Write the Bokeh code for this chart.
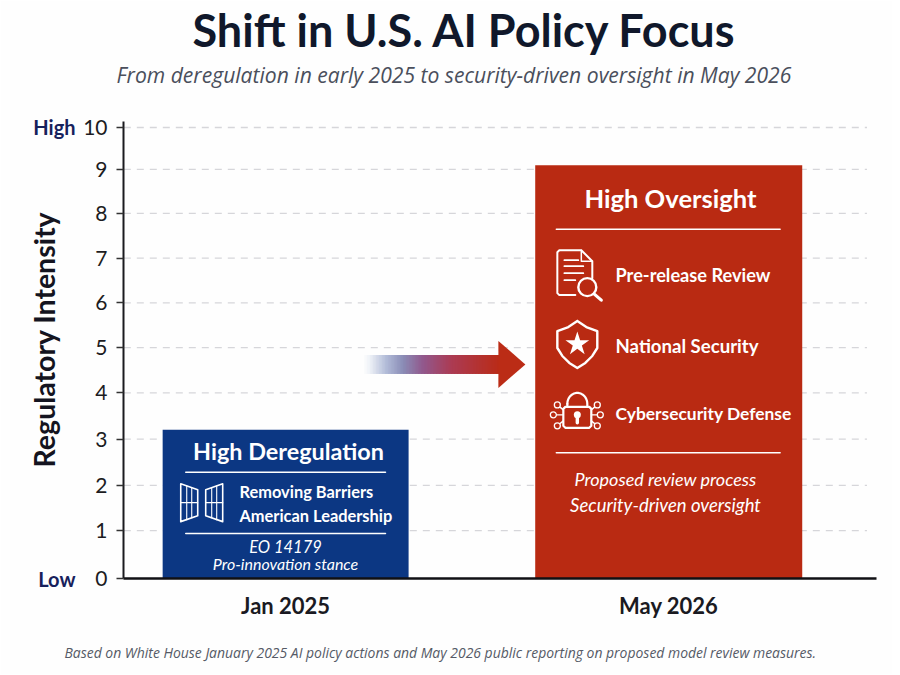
import numpy as np
from bokeh.embed import file_html
from bokeh.resources import INLINE
from bokeh.plotting import figure
from bokeh.models import ColumnDataSource, FixedTicker, Label, LinearAxis, Range1d, Title

# ---- data ----
categories = ["Jan 2025", "May 2026"]
intensity = [3.2, 9.1]
bar_colors = ["#0c3783", "#b92a12"]
tick_labels = ["0", "1", "2", "3", "4", "5", "6", "7", "8", "9", "10"]
# the reference's y axis is slightly uneven: where each labelled tick sits
tick_places = [0, 1.062, 2.064, 3.091, 4.115, 5.117, 6.113, 7.102, 8.097, 9.071, 10.0]
bar_width_units = [0.642, 0.697]
scale_ends = {0: "Low", 10: "High"}

FONT = "Lato"
W, H = 892, 674


def axis_place(v):
    return float(np.interp(v, [float(t) for t in tick_labels], tick_places))


def px(x):  # page x -> axis units (decoration layout)
    return (x - 285.0) / 383.5


def py(y):  # page y -> axis units (decoration layout)
    return (578.0 - y) / 45.2


p = figure(width=W, height=H, output_backend="svg", toolbar_location=None,
           x_range=Range1d(px(122.7), px(876.5)), y_range=Range1d(0, py(120)),
           min_border_left=123, min_border_right=W - 876, min_border_top=120, min_border_bottom=H - 578,
           background_fill_color="#fefefe", border_fill_color="#fefefe", outline_line_color=None)
p.grid.visible = False

# axes
ya, xa = p.yaxis[0], p.xaxis[0]
ya.ticker = FixedTicker(ticks=tick_places)
ya.major_label_overrides = dict(zip(tick_places, tick_labels))
ya.major_label_text_font = FONT
ya.major_label_text_font_size = "21px"
ya.major_label_text_color = "#1c1c22"
ya.major_label_standoff = 9
ya.major_tick_in = 0
ya.major_tick_out = 7
ya.major_tick_line_color = "#333333"
ya.major_tick_line_width = 1.5
ya.minor_tick_line_color = None
ya.axis_line_color = "#1a1a1f"
ya.axis_line_width = 2

# second left axis: only the Low / High ends of the scale, plus the axis title
# (leading no-break spaces lift the rotated title to the reference's centre)
ends = LinearAxis(ticker=FixedTicker(ticks=list(scale_ends)), major_label_overrides=scale_ends,
                  major_label_text_font=FONT, major_label_text_font_style="bold",
                  major_label_text_font_size="20px", major_label_text_color="#17215c",
                  major_label_standoff=-1, major_tick_line_color=None, minor_tick_line_color=None,
                  axis_line_color=None,
                  axis_label="\u00a0\u00a0\u00a0Regulatory Intensity", axis_label_text_font=FONT,
                  axis_label_text_font_style="bold", axis_label_text_font_size="28.5px",
                  axis_label_text_color="#141420", axis_label_standoff=-31)
p.add_layout(ends, "left")

xa.ticker = FixedTicker(ticks=list(range(len(categories))))
xa.major_label_overrides = dict(enumerate(categories))
xa.major_label_text_font = FONT
xa.major_label_text_font_style = "bold"
xa.major_label_text_font_size = "22px"
xa.major_label_text_color = "#1a1a22"
xa.major_label_standoff = 7
xa.major_tick_line_color = None
xa.minor_tick_line_color = None
xa.axis_line_color = "#111114"
xa.axis_line_width = 2.5

# title, subtitle and footnote live in the side panels, left-aligned with offsets;
# blank titles act as spacers because a title is centred inside its own panel
p.title = Title(text="Shift in U.S. AI Policy Focus", align="left", offset=69, standoff=1,
                text_font=FONT, text_font_style="bold", text_font_size="45px", text_color="#10182b")
p.add_layout(Title(text="\u00a0", standoff=20, text_font_size="10px"), "above")
p.add_layout(Title(text="From deregulation in early 2025 to security-driven oversight in May 2026",
                   align="left", offset=-7, standoff=0, text_font="Open Sans",
                   text_font_style="italic", text_font_size="21.1px", text_color="#4a4f5c"), "above")
p.add_layout(Title(text="\u00a0", standoff=6, text_font_size="10px"), "below")
p.add_layout(Title(text="Based on White House January 2025 AI policy actions and May 2026 public reporting on proposed model review measures.",
                   align="left", offset=-59, standoff=0, text_font="Open Sans", text_font_style="italic",
                   text_font_size="13.95px", text_color="#555a66"), "below")

# dashed grid lines (stop short of the baseline's end)
grid_ticks = tick_places[1:]
p.segment(x0=[px(123)] * len(grid_ticks), x1=[px(867)] * len(grid_ticks), y0=grid_ticks, y1=grid_ticks,
          line_color="#d6d6da", line_width=1.3, line_dash={"value": [7, 6]})

# bars
src = ColumnDataSource(dict(x=list(range(len(categories))),
                            top=[axis_place(v) for v in intensity],
                            w=bar_width_units, c=bar_colors))
p.vbar(x="x", top="top", bottom=0, width="w", fill_color="c", line_color=None, source=src)

# gradient arrow
stops_x = [362, 368, 385, 402, 422, 450, 498]
stops_c = [(254, 254, 254), (240, 243, 248), (178, 188, 216), (138, 140, 182), (146, 88, 140), (172, 60, 84), (186, 44, 24)]
edges = np.arange(362, 498.5, 1.5)
cols = []
for e in edges:
    r, g, b = [int(np.interp(e, stops_x, [c[i] for c in stops_c])) for i in range(3)]
    cols.append(f"#{r:02x}{g:02x}{b:02x}")
p.quad(left=[px(e) for e in edges], right=[px(e + 2.5) for e in edges],
       top=[py(354)] * len(edges), bottom=[py(373)] * len(edges), fill_color=cols, line_color=None)
p.patch([px(498), px(525), px(498)], [py(340), py(363.5), py(387)], fill_color="#bb2c16", line_color=None)


def line(pts, width=2.0):
    p.line([px(a) for a, _ in pts], [py(b) for _, b in pts], line_color="white", line_width=width,
           line_join="round", line_cap="round")


def text(s, x, y, size, style="normal", color="white", align="left", font=FONT):
    p.add_layout(Label(x=x, y=y - 1, x_units="canvas", y_units="canvas", text=s, text_font=font,
                       text_font_style=style, text_font_size=f"{size}px", text_color=color,
                       text_align=align, text_baseline="middle"))


# blue card
text("High Deregulation", 288, 451, 23.4, "bold", align="center")
line([(185, 471.5), (385, 471.5)], 1.5)
line([(185, 533), (385, 533)], 1.5)
text("Removing Barriers", 239, 492, 16.4, "bold")
text("American Leadership", 239, 516, 16.4, "bold")
text("EO 14179", 285, 547, 16.5, "italic", align="center")
text("Pro-innovation stance", 285, 564, 16, "italic", align="center")
line([(180, 483), (197, 489), (197, 515), (180, 521), (180, 483)], 1.6)
line([(222, 483), (205, 489), (205, 515), (222, 521), (222, 483)], 1.6)
for gx, top, bot in [(186, 485, 519), (191, 487, 517), (216, 485, 519), (211, 487, 517)]:
    line([(gx, top), (gx, bot)], 1.1)
line([(180, 502), (197, 502)], 1.1)
line([(205, 502), (222, 502)], 1.1)

# red card
text("High Oversight", 670, 198, 25.6, "bold", align="center")
line([(556, 228), (780, 228)], 1.5)
line([(556, 452), (780, 452)], 1.5)
text("Pre-release Review", 615, 275, 18.2, "bold")
text("National Security", 615, 346, 18.6, "bold")
text("Cybersecurity Defense", 615, 414, 17.4, "bold")
text("Proposed review process", 665, 479, 18, "italic", align="center")
text("Security-driven oversight", 665, 505, 18.5, "italic", align="center")

# document icon
line([(575, 294), (559, 294), (557, 292), (557, 251), (559, 249), (581, 249), (592, 260), (592, 277)])
line([(581, 249), (581, 260), (592, 260)], 1.5)
for ly, x1 in [(259, 578), (265, 583), (272, 583), (279, 575)]:
    line([(564, ly), (x1, ly)], 1.7)
p.scatter([px(587)], [py(286)], size=18, marker="circle", fill_color=None, line_color="white", line_width=2.4)
line([(594, 293), (601, 299)], 3.2)

# shield icon
line([(577, 320), (586, 326), (597, 330), (597, 347), (592, 355), (585, 362), (577, 367),
      (569, 362), (562, 355), (557, 347), (557, 330), (568, 326), (577, 320)], 2.4)
p.scatter([px(577)], [py(343)], size=25, marker="star", fill_color="white", line_color=None)

# lock icon
arc = np.linspace(np.pi, 0, 20)
line([(577 + 10 * np.cos(a), 403 - 11 * np.sin(a)) for a in arc] + [(587, 406)], 2.2)
line([(567, 403), (567, 406)], 2.2)
line([(565, 406), (589, 406), (591, 408), (591, 425), (589, 427), (565, 427), (563, 425), (563, 408), (565, 406)], 2.2)
p.scatter([px(577)], [py(414)], size=7, marker="circle", fill_color="white", line_color=None)
line([(577, 414), (577, 422)], 3.4)
for nx, ny, cx in [(553, 414, 563), (600, 414, 591)]:
    line([(nx, ny), (cx, ny)], 1.4)
    p.scatter([px(nx)], [py(ny)], size=6, marker="circle", fill_color="#b92a12", line_color="white", line_width=1.3)
for nx, ny, cx, bend in [(557, 404, 563, 409), (557, 425, 563, 420), (597, 404, 591, 409), (597, 425, 591, 420)]:
    line([(nx, ny), (cx, bend)], 1.4)
    p.scatter([px(nx)], [py(ny)], size=6, marker="circle", fill_color="#b92a12", line_color="white", line_width=1.3)

open("out.html", "w").write(file_html(p, INLINE))
